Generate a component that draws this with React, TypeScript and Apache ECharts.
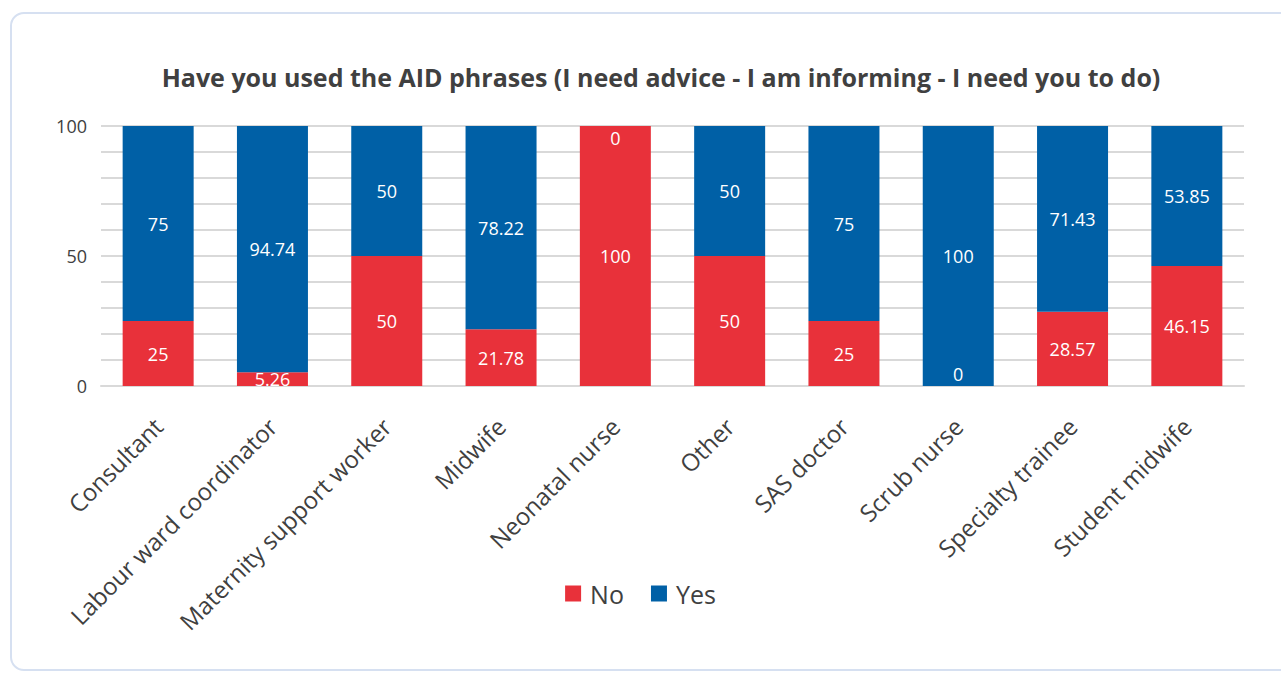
import React, { useEffect, useRef } from "react";
import * as echarts from "echarts";

const categories = [
  "Consultant",
  "Labour ward coordinator",
  "Maternity support worker",
  "Midwife",
  "Neonatal nurse",
  "Other",
  "SAS doctor",
  "Scrub nurse",
  "Specialty trainee",
  "Student midwife",
];
const noValues = [25, 5.26, 50, 21.78, 100, 50, 25, 0, 28.57, 46.15];
const yesValues = [75, 94.74, 50, 78.22, 0, 50, 75, 100, 71.43, 53.85];
const yTickLabels = [0, 50, 100];

const TITLE = "Have you used the AID phrases (I need advice - I am informing - I need you to do)";
const FONT = "'Open Sans', Lato, sans-serif";
const RED = "#E8313A";
const BLUE = "#0060A6";
const TEXT = "#404040";

function makeData(values: number[], zeroPos: string) {
  return values.map((v) =>
    v === 0 ? { value: v, label: { position: zeroPos } } : { value: v }
  );
}

export default function App() {
  const ref = useRef<HTMLDivElement>(null);
  useEffect(() => {
    if (!ref.current) return;
    const chart = echarts.init(ref.current, null, { renderer: "svg" });
    const labelStyle = {
      show: true,
      position: "inside",
      color: "#ffffff",
      fontSize: 18,
      fontFamily: FONT,
      distance: 3,
    };
    chart.setOption({
      animation: false,
      title: {
        text: TITLE,
        left: 656,
        textAlign: "center",
        top: 59,
        textStyle: { fontFamily: FONT, fontSize: 25, fontWeight: "bold", color: TEXT },
      },
      legend: {
        data: ["No", "Yes"],
        left: "center",
        top: 576,
        itemWidth: 16,
        itemHeight: 16,
        itemGap: 27,
        icon: "rect",
        textStyle: { fontFamily: FONT, fontSize: 25, color: TEXT, padding: [0, 0, 0, 4] },
      },
      grid: { left: 101, right: 37, top: 126, height: 260, containLabel: false },
      xAxis: {
        type: "category",
        data: categories,
        axisLine: { show: true, lineStyle: { color: "#d9d9d9", width: 2 } },
        axisTick: { show: false },
        axisLabel: {
          rotate: 45,
          interval: 0,
          fontFamily: FONT,
          fontSize: 24,
          color: TEXT,
          margin: 36,
        },
      },
      yAxis: {
        type: "value",
        min: 0,
        max: 100,
        interval: 10,
        axisLine: { show: false },
        axisTick: { show: false },
        splitLine: { lineStyle: { color: "#d9d9d9", width: 2 } },
        axisLabel: {
          fontFamily: FONT,
          fontSize: 18,
          color: TEXT,
          margin: 14,
          formatter: (v: number) => (yTickLabels.includes(v) ? String(v) : ""),
        },
      },
      series: [
        {
          name: "No",
          type: "bar",
          stack: "total",
          barWidth: 71,
          itemStyle: { color: RED },
          label: labelStyle,
          data: makeData(noValues, "insideBottom"),
        },
        {
          name: "Yes",
          type: "bar",
          stack: "total",
          barWidth: 71,
          itemStyle: { color: BLUE },
          label: labelStyle,
          data: makeData(yesValues, "insideTop"),
        },
      ],
    });
    return () => chart.dispose();
  }, []);

  return (
    <div style={{ position: "fixed", left: 0, top: 0, width: 1281, height: 673, background: "#fff", overflow: "hidden" }}>
      <div
        style={{
          position: "absolute",
          left: 10,
          top: 12,
          width: 1320,
          height: 659,
          border: "2px solid #d6e0f1",
          borderRadius: 14,
          boxSizing: "border-box",
        }}
      />
      <div ref={ref} style={{ position: "absolute", left: 0, top: 0, width: 1281, height: 673 }} />
    </div>
  );
}
